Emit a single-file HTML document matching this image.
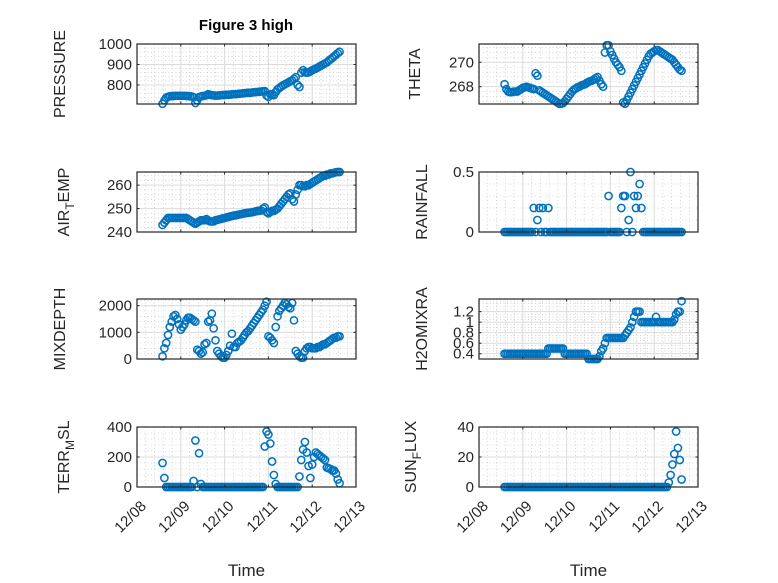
<!DOCTYPE html>
<html><head><meta charset="utf-8"><style>
html,body{margin:0;padding:0;background:#fff;}
svg{display:block;font-family:"Liberation Sans",sans-serif;}
</style></head><body>
<svg id="fig" width="778" height="583" viewBox="0 0 778 583">
<rect width="778" height="583" fill="#fff"/>
<text x="246" y="30" text-anchor="middle" font-size="15" font-weight="bold" fill="#000">Figure 3 high</text>
<g id="plots"></g>
</svg>
<script>
const hours = [14,15,16,17,18,19,20,21,22,23,
24,25,26,27,28,29,30,31,32,33,
34,35,36,37,38,39,40,41,42,43,
44,45,46,47,48,49,50,51,52,53,
54,55,56,57,58,59,60,61,62,63,
64,65,66,67,68,69,70,71,72,73,
74,75,76,77,78,79,80,81,82,83,
84,85,86,87,88,89,90,91,92,93,
94,95,96,97,98,99,100,101,102,103,
104,105,106,107,108,109,110,111];
const pressure = [708,725,738,742,745,746,746,747,747,747,
747,747,747,746,746,745,744,740,712,725,
740,744,746,747,750,755,752,750,749,748,
748,749,750,751,751,752,752,753,754,755,
755,756,757,758,759,760,761,762,762,763,
764,765,766,767,768,769,770,748,742,755,
752,750,765,778,785,792,798,803,808,813,
818,822,830,838,800,790,860,872,862,860,
862,866,872,876,880,885,890,895,900,905,
910,918,925,932,940,947,955,962];
const airTemp = [243,244,245,246,246,246,246,246,246,246,
246,246,246,246,245.5,245,244.5,244,243.5,244,
244.5,245,245,245,245.5,245,244.5,244.5,244.5,245,
245.2,245.4,245.6,245.8,246,246.2,246.4,246.6,246.8,247,
247.1,247.3,247.5,247.6,247.8,248,248.1,248.2,248.3,248.4,
248.6,248.8,249,249,249.2,250,250.5,248.5,248,248.5,
249,249,249.5,250,251,252,253,254,255,256,
256.5,254,253,256,258,260,260,259.5,259.5,260,
260,260.5,261,261.5,262,262.5,263,263.5,264,264,
264.5,264.5,265,265,265.3,265.5,265.6,265.6];
const mixDepth = [100,400,600,900,1200,1400,1600,1650,1500,1300,
1100,1200,1300,1450,1550,1550,1500,1450,1400,350,
300,200,250,550,600,1400,1450,1700,1150,700,
300,200,100,50,50,150,300,500,950,450,
450,600,650,700,800,900,1000,1050,1150,1250,
1350,1450,1550,1650,1750,1850,2000,2150,850,800,
700,600,1200,1600,1800,1900,2000,2100,2050,1950,
1900,2100,1450,300,200,100,50,50,300,400,
450,450,400,400,400,450,450,500,550,550,
600,650,700,750,800,800,850,850];
const terrMsl = [160,60,0,0,0,0,0,0,0,0,
0,0,0,0,0,0,0,40,310,0,
225,20,0,0,0,0,0,0,0,0,
0,0,0,0,0,0,0,0,0,0,
0,0,0,0,0,0,0,0,0,0,
0,0,0,0,0,0,270,370,350,290,
170,80,20,0,0,0,0,0,0,0,
0,0,0,0,0,70,180,250,300,230,
140,60,150,200,230,220,210,200,190,180,
130,125,120,110,110,90,50,25];
const theta = [268.2,267.8,267.6,267.55,267.55,267.6,267.6,267.6,267.7,267.8,
267.9,267.95,268,267.95,267.9,267.85,267.8,269.1,268.9,267.7,
267.6,267.5,267.4,267.3,267.2,267.1,267,266.9,266.8,266.7,
266.6,266.6,266.65,266.8,267,267.2,267.4,267.6,267.75,267.85,
267.95,268,268.1,268.15,268.2,268.3,268.4,268.45,268.5,268.6,
268.7,268.8,268.5,268.2,268,270.8,271.4,271.4,270.9,270.6,
270.3,270.0,269.8,269.6,269.3,266.7,266.6,266.9,267.2,267.5,
267.8,268.1,268.4,268.7,269,269.3,269.6,269.9,270.2,270.5,
270.7,270.8,270.9,271.0,271.0,270.9,270.8,270.7,270.6,270.5,
270.4,270.3,270.2,270.0,269.8,269.6,269.4,269.3];
const rainfall = [0,0,0,0,0,0,0,0,0,0,
0,0,0,0,0,0,0.2,0,0.1,0.2,
0,0.2,0,0,0.2,0,0,0,0,0,
0,0,0,0,0,0,0,0,0,0,
0,0,0,0,0,0,0,0,0,0,
0,0,0,0,0,0,0,0.3,0,0,
0,0,0,0,0.2,0.3,0.3,0,0.1,0.5,
0,0.3,0.2,0.3,0.4,0.2,0,0,0,0,
0,0,0,0,0,0,0,0,0,0,
0,0,0,0,0,0,0,0];
const h2o = [0.4,0.4,0.4,0.4,0.4,0.4,0.4,0.4,0.4,0.4,
0.4,0.4,0.4,0.4,0.4,0.4,0.4,0.4,0.4,0.4,
0.4,0.4,0.4,0.4,0.5,0.5,0.5,0.5,0.5,0.5,
0.5,0.5,0.5,0.4,0.4,0.4,0.4,0.4,0.4,0.4,
0.4,0.4,0.4,0.4,0.4,0.4,0.3,0.3,0.3,0.3,
0.3,0.3,0.35,0.45,0.5,0.6,0.7,0.7,0.7,0.7,
0.7,0.7,0.7,0.7,0.7,0.7,0.75,0.8,0.85,0.9,
1.0,1.1,1.2,1.2,1.2,1.0,1.0,1.0,1.0,1.0,
1.0,1.0,1.0,1.1,1.0,1.0,1.0,1.0,1.0,1.0,
1.0,1.0,1.0,1.05,1.15,1.2,1.2,1.4];
const sunFlux = [0,0,0,0,0,0,0,0,0,0,
0,0,0,0,0,0,0,0,0,0,
0,0,0,0,0,0,0,0,0,0,
0,0,0,0,0,0,0,0,0,0,
0,0,0,0,0,0,0,0,0,0,
0,0,0,0,0,0,0,0,0,0,
0,0,0,0,0,0,0,0,0,0,
0,0,0,0,0,0,0,0,0,0,
0,0,0,0,0,0,0,0,0,0,
3,8,15,22,37,26,18,5];
const xTickLabels = ["12/08","12/09","12/10","12/11","12/12","12/13"];
const pressureTicks = [800,900,1000];
const airTicks = [240,250,260];
const mixTicks = [0,1000,2000];
const terrTicks = [0,200,400];
const thetaTicks = [268,270];
const rainTicks = [0,0.5];
const h2oTicks = [0.4,0.6,0.8,1,1.2];
const sunTicks = [0,20,40];

const NS="http://www.w3.org/2000/svg";
const G=document.getElementById('plots');
function mk(tag,attrs,parent){const e=document.createElementNS(NS,tag);for(const k in attrs)e.setAttribute(k,attrs[k]);(parent||G).appendChild(e);return e;}
const W=219,H=60;
const panels=[
 {name:'pressure',x:137,y:44,ymin:707,ymax:1000,data:pressure,ticks:pressureTicks,minor:20,label:['PRESSURE'],lx:65,xl:false},
 {name:'air-temp',x:137,y:172,ymin:240,ymax:265.6,data:airTemp,ticks:airTicks,minor:2,label:['AIR','T','EMP'],lx:69,xl:false},
 {name:'mixdepth',x:137,y:299,ymin:0,ymax:2250,data:mixDepth,ticks:mixTicks,minor:200,label:['MIXDEPTH'],lx:65,xl:false},
 {name:'terr-msl',x:137,y:427,ymin:0,ymax:400,data:terrMsl,ticks:terrTicks,minor:40,label:['TERR','M','SL'],lx:69,xl:true},
 {name:'theta',x:479,y:44,ymin:266.58,ymax:271.5,data:theta,ticks:thetaTicks,minor:0.4,label:['THETA'],lx:420,xl:false},
 {name:'rainfall',x:479,y:172,ymin:0,ymax:0.5,data:rainfall,ticks:rainTicks,minor:0.1,label:['RAINFALL'],lx:427,xl:false},
 {name:'h2omixra',x:479,y:299,ymin:0.3,ymax:1.44,data:h2o,ticks:h2oTicks,minor:0.05,label:['H2OMIXRA'],lx:427,xl:false},
 {name:'sun-flux',x:479,y:427,ymin:0,ymax:40,data:sunFlux,ticks:sunTicks,minor:4,label:['SUN','F','LUX'],lx:416,xl:true}
];
panels.forEach(p=>{
 const g=mk('g',{});
 
 
 const xs=d=>p.x+d/5*W;
 const ys=v=>p.y+H-(v-p.ymin)/(p.ymax-p.ymin)*H;
 for(let d=0;d<=5.0001;d+=0.2){const X=xs(d);mk('line',{x1:X,x2:X,y1:p.y,y2:p.y+H,stroke:'#bbb','stroke-width':0.6,'stroke-dasharray':'1,2.5'},g);}
 let start=Math.ceil(p.ymin/p.minor)*p.minor;
 for(let v=start;v<=p.ymax+1e-9;v+=p.minor){const Y=ys(v);mk('line',{x1:p.x,x2:p.x+W,y1:Y,y2:Y,stroke:'#bbb','stroke-width':0.6,'stroke-dasharray':'1,2.5'},g);}
 for(let d=1;d<5;d++){const X=xs(d);mk('line',{x1:X,x2:X,y1:p.y,y2:p.y+H,stroke:'#dcdcdc','stroke-width':1},g);}
 p.ticks.forEach(v=>{const Y=ys(v);mk('line',{x1:p.x,x2:p.x+W,y1:Y,y2:Y,stroke:'#dcdcdc','stroke-width':1},g);});
 p.data.forEach((v,i)=>{
  const c=mk('circle',{cx:xs(hours[i]/24),cy:ys(v),r:3.6,fill:'none',stroke:'#0072BD','stroke-width':1.5},g);
  
  
 });
 mk('rect',{x:p.x,y:p.y,width:W,height:H,fill:'none',stroke:'#262626','stroke-width':1.2},g);
 for(let d=0;d<=5;d++){const X=xs(d);mk('line',{x1:X,x2:X,y1:p.y+H,y2:p.y+H-2.5,stroke:'#262626'},g);mk('line',{x1:X,x2:X,y1:p.y,y2:p.y+2.5,stroke:'#262626'},g);}
 p.ticks.forEach(v=>{const Y=ys(v);mk('line',{x1:p.x,x2:p.x+2.5,y1:Y,y2:Y,stroke:'#262626'},g);mk('line',{x1:p.x+W,x2:p.x+W-2.5,y1:Y,y2:Y,stroke:'#262626'},g);
  const t=mk('text',{x:p.x-5,y:Y+5,'text-anchor':'end','font-size':15,fill:'#262626'},g);t.textContent=String(v);
  
  
 });
 const lx=p.lx, ly=p.y+H/2;
 const yl=mk('text',{x:lx,y:ly,'text-anchor':'middle','font-size':16,fill:'#262626',transform:`rotate(-90 ${lx} ${ly})`},g);
 
 
 if(p.label.length===1){yl.textContent=p.label[0];}
 else{const a=mk('tspan',{},yl);a.textContent=p.label[0];const b=mk('tspan',{dy:5,'font-size':12},yl);b.textContent=p.label[1];const c=mk('tspan',{dy:-5},yl);c.textContent=p.label[2];}
 if(p.xl){
  xTickLabels.forEach((s,d)=>{const X=xs(d)+10,Y=p.y+H+20;
   const t=mk('text',{x:X,y:Y,'text-anchor':'end','font-size':15,fill:'#262626',transform:`rotate(-45 ${X} ${Y})`},g);t.textContent=s;
   
   
  });
  const xl=mk('text',{x:p.x+W/2,y:576,'text-anchor':'middle','font-size':17,fill:'#262626'},g);xl.textContent='Time';
  
  
 }
});
</script>
</body></html>
